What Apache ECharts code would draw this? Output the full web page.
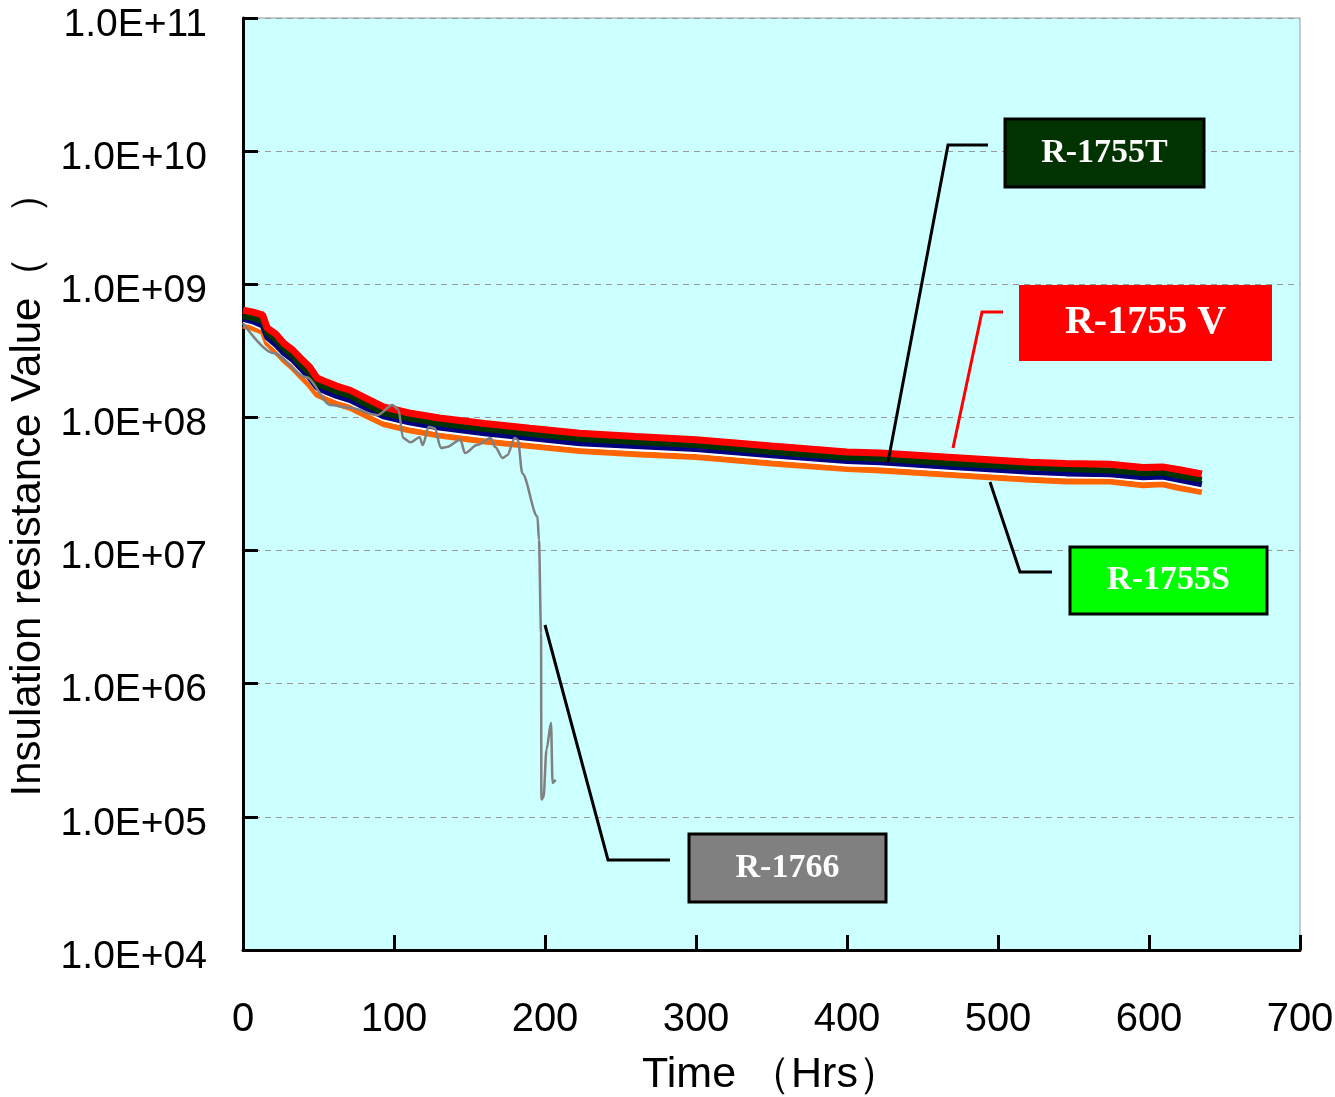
<!DOCTYPE html>
<html>
<head>
<meta charset="utf-8">
<script src="https://cdn.jsdelivr.net/npm/echarts@6/dist/echarts.min.js"></script>
<style>
  html, body { margin: 0; padding: 0; background: #fff; }
  #chart { width: 1335px; height: 1097px; }
</style>
</head>
<body>
<div id="chart"></div>
<script>
// time (Hrs) for the four thick curves
const hours = [0, 6, 13, 16, 22, 27, 33, 38, 44, 49, 55, 62, 71, 80, 93, 110, 130, 160, 190, 223,
  260, 300, 350, 400, 422, 470, 521, 545, 574, 596, 609, 620, 635]

const r1755v = [6.4e8, 6.2e8, 5.9e8, 4.7e8, 4.2e8, 3.6e8, 3.2e8, 2.8e8, 2.4e8, 1.98e8, 1.85e8, 1.72e8,
  1.6e8, 1.42e8, 1.2e8, 1.08e8, 9.9e7, 9.0e7, 8.3e7, 7.6e7, 7.2e7, 6.8e7, 6.1e7, 5.5e7, 5.4e7, 5.0e7,
  4.6e7, 4.5e7, 4.45e7, 4.2e7, 4.25e7, 4.05e7, 3.76e7]
const r1755t = [5.8e8, 5.6e8, 5.3e8, 4.3e8, 3.8e8, 3.3e8, 2.9e8, 2.5e8, 2.15e8, 1.8e8, 1.68e8, 1.56e8,
  1.45e8, 1.28e8, 1.08e8, 9.8e7, 9.0e7, 8.2e7, 7.5e7, 6.9e7, 6.5e7, 6.2e7, 5.5e7, 5.0e7, 4.9e7, 4.5e7,
  4.2e7, 4.1e7, 4.0e7, 3.8e7, 3.85e7, 3.65e7, 3.4e7]
const r1755s = [5.5e8, 5.3e8, 4.9e8, 4.0e8, 3.5e8, 3.05e8, 2.7e8, 2.35e8, 2.0e8, 1.68e8, 1.56e8, 1.45e8,
  1.35e8, 1.2e8, 1.02e8, 9.2e7, 8.4e7, 7.6e7, 7.0e7, 6.4e7, 6.1e7, 5.8e7, 5.2e7, 4.7e7, 4.6e7, 4.25e7,
  3.9e7, 3.8e7, 3.75e7, 3.55e7, 3.6e7, 3.4e7, 3.15e7]
const whiteLine = [5.2e8, 5.0e8, 4.6e8, 3.8e8, 3.3e8, 2.9e8, 2.55e8, 2.2e8, 1.9e8, 1.6e8, 1.48e8, 1.37e8,
  1.28e8, 1.13e8, 9.6e7, 8.7e7, 7.9e7, 7.2e7, 6.6e7, 6.05e7, 5.75e7, 5.45e7, 4.9e7, 4.4e7, 4.35e7, 4.0e7,
  3.7e7, 3.6e7, 3.55e7, 3.35e7, 3.4e7, 3.2e7, 2.95e7]
const r1755 = [4.9e8, 4.7e8, 4.4e8, 3.6e8, 3.1e8, 2.7e8, 2.35e8, 2.05e8, 1.75e8, 1.48e8, 1.38e8, 1.27e8,
  1.18e8, 1.05e8, 8.9e7, 8.0e7, 7.3e7, 6.6e7, 6.1e7, 5.6e7, 5.3e7, 5.05e7, 4.5e7, 4.1e7, 4.0e7, 3.7e7,
  3.4e7, 3.3e7, 3.3e7, 3.1e7, 3.15e7, 2.95e7, 2.75e7]

// R-1766 (fails near 200 Hrs)
const hours1766 = [0, 20, 42, 58, 71, 89, 99, 103, 106, 111, 117, 119, 123, 127, 131, 135, 144, 147,
  155, 164, 167, 172, 175, 180, 182, 185, 195, 196, 197.4, 197.6, 199, 201, 204, 205, 207]
const r1766 = [5.1e8, 3.05e8, 2.0e8, 1.24e8, 1.18e8, 1.04e8, 1.24e8, 1.14e8, 7.0e7, 6.5e7, 7.1e7,
  6.2e7, 8.5e7, 8.3e7, 5.9e7, 6.0e7, 6.8e7, 5.4e7, 6.2e7, 7.0e7, 6.0e7, 4.95e7, 5.2e7, 7.0e7, 6.8e7,
  3.8e7, 1.8e7, 1.2e7, 2.4e6, 1.35e5, 1.4e5, 3.2e5, 5.1e5, 1.8e5, 1.9e5]

const xTicks = [0, 100, 200, 300, 400, 500, 600, 700]

const pair = (xs, ys) => xs.map((x, i) => [x, ys[i]])
const font = '"Liberation Sans", Arial, sans-serif'
const serif = '"Liberation Serif", "Times New Roman", serif'

function line(name, xs, ys, color, width, extra) {
  return Object.assign({
    name,
    type: 'line',
    data: pair(xs, ys),
    showSymbol: false,
    symbol: 'none',
    lineStyle: { color, width },
    silent: true
  }, extra || {})
}

// label box: rectangle plus centred white text
function box(x, y, w, h, fill, stroke, text, size) {
  return [
    {
      type: 'rect',
      shape: { x, y, width: w, height: h },
      style: { fill, stroke: stroke || fill, lineWidth: stroke ? 3 : 0 },
      z: 100
    },
    {
      type: 'text',
      x: x + w / 2,
      y: y + h / 2,
      style: { text, fill: '#fff', font: 'bold ' + (size || 34) + 'px ' + serif, align: 'center', verticalAlign: 'middle' },
      z: 101
    }
  ]
}

function leader(points, color) {
  return {
    type: 'polyline',
    shape: { points },
    style: { stroke: color, lineWidth: 3, fill: null },
    z: 100
  }
}

const chart = echarts.init(document.getElementById('chart'))

chart.setOption({
  animation: false,
  grid: {
    left: 243, top: 18, right: 35, bottom: 147,
    outerBoundsMode: 'none',
    containLabel: false,
    show: true, backgroundColor: '#CCFFFF', borderColor: '#999', borderWidth: 1
  },
  xAxis: {
    type: 'value',
    min: 0, max: 700, interval: 100,
    name: 'Time （Hrs）',
    nameLocation: 'middle',
    nameGap: 104,
    nameTextStyle: { fontSize: 43, color: '#000', fontFamily: font },
    axisLine: { lineStyle: { color: '#000', width: 3 } },
    axisTick: { inside: true, length: 15, lineStyle: { color: '#000', width: 3 } },
    axisLabel: {
      fontSize: 40, color: '#000', fontFamily: font, margin: 50,
      formatter: v => xTicks.includes(v) ? String(v) : ''
    },
    splitLine: { show: false }
  },
  yAxis: {
    type: 'log',
    logBase: 10,
    min: 1e4, max: 1e11,
    name: 'Insulation resistance Value（　）',
    nameLocation: 'middle',
    nameGap: 190,
    nameTextStyle: { fontSize: 42, color: '#000', fontFamily: font },
    axisLine: { lineStyle: { color: '#000', width: 3 } },
    axisTick: { inside: true, length: 15, lineStyle: { color: '#000', width: 3 } },
    axisLabel: {
      fontSize: 39, color: '#000', fontFamily: font, margin: 36,
      verticalAlign: 'top', lineHeight: 14,
      formatter: v => {
        const e = Math.round(Math.log10(v))
        return '1.0E+' + (e < 10 ? '0' + e : e)
      }
    },
    splitLine: { show: true, lineStyle: { color: '#999', width: 1, type: [6, 5] } }
  },
  series: [
    line('R-1755', hours, r1755, '#FF6600', 6),
    line('', hours, whiteLine, '#FFFFFF', 3),
    line('R-1755S', hours, r1755s, '#000080', 6),
    line('R-1755T', hours, r1755t, '#003300', 6),
    line('R-1755 V', hours, r1755v, '#FF0000', 7),
    line('R-1766', hours1766, r1766, '#808080', 2.5, { smooth: 0.3, smoothMonotone: 'x' })
  ],
  graphic: [
    leader([[988, 145], [948, 145], [888, 462]], '#000'),
    leader([[1003, 312], [982, 312], [953, 448]], '#FF0000'),
    leader([[1052, 572], [1020, 572], [990, 482]], '#000'),
    leader([[670, 860], [608, 860], [545, 625]], '#000'),
    ...box(1005, 119, 199, 68, '#003300', '#000', 'R-1755T', 34),
    ...box(1019, 285, 253, 76, '#FF0000', null, 'R-1755 V', 40),
    ...box(1070, 547, 197, 67, '#00FF00', '#000', 'R-1755S', 34),
    ...box(689, 834, 197, 68, '#808080', '#000', 'R-1766', 34)
  ]
})
</script>
</body>
</html>
